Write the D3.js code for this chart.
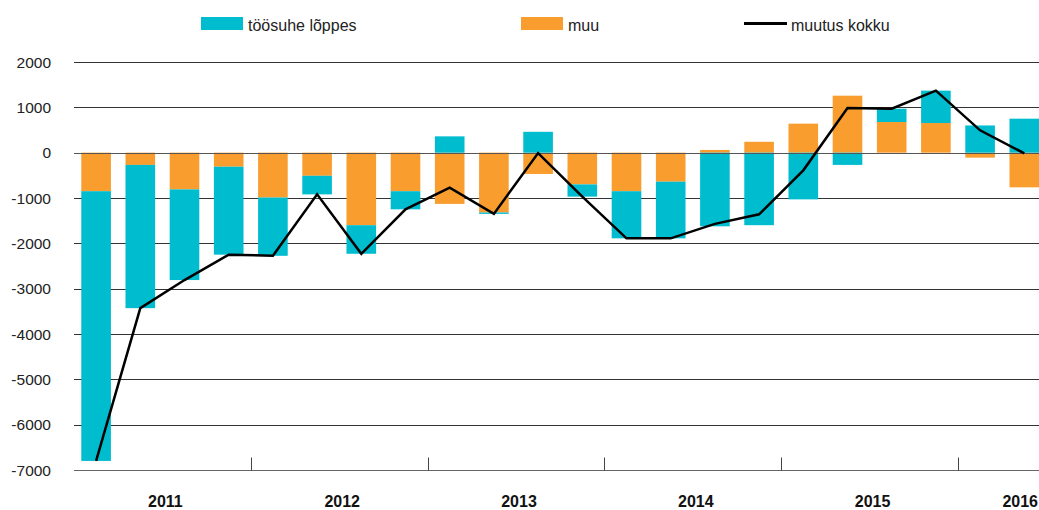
<!DOCTYPE html>
<html>
<head>
<meta charset="utf-8">
<script src="https://cdn.jsdelivr.net/npm/d3@7"></script>
<style>
  body { margin: 0; background: #fff; }
  svg { display: block; font-family: "Liberation Sans", Arial, Helvetica, sans-serif; }
</style>
</head>
<body>
<div id="plot"></div>
<script>

// data

  var quarters = ["2011Q1","2011Q2","2011Q3","2011Q4","2012Q1","2012Q2","2012Q3","2012Q4",
      "2013Q1","2013Q2","2013Q3","2013Q4","2014Q1","2014Q2","2014Q3","2014Q4",
      "2015Q1","2015Q2","2015Q3","2015Q4","2016Q1","2016Q2"];
  var years = ["2011", "2012", "2013", "2014", "2015", "2016"];

  var toosuhe = [-5950, -3160, -2000, -1940, -1285, -410, -630, -400, 360, -30, 460, -270,
      -1040, -1250, -1625, -1600, -1030, -270, 294, 714, 600, 750];
  var muu = [-850, -270, -810, -310, -990, -510, -1600, -850, -1130, -1320, -470, -700,
      -850, -640, 60, 240, 640, 1257, 676, 654, -110, -765];
  var kokku = [-6800, -3430, -2810, -2250, -2275, -920, -2230, -1250, -770, -1350, -10, -970,
      -1890, -1890, -1570, -1360, -390, 985, 970, 1368, 493, -15];

  var yTicks = [2000, 1000, 0, -1000, -2000, -3000, -4000, -5000, -6000, -7000];

  var names = {toosuhe: "töösuhe lõppes", muu: "muu", kokku: "muutus kokku"};
  var colors = {toosuhe: "#00bccf", muu: "#f99d2f"};

// sizes

  var w = 1039;
  var h = 510;
  var left = 74;
  var step = 44.2;

  var rows = quarters.map((q, i) => ({q: q, muu: muu[i], toosuhe: toosuhe[i]}));
  var series = d3.stack()
      .keys(["muu", "toosuhe"])
      .offset(d3.stackOffsetDiverging)(rows);

  var xScale = d3.scaleBand()
      .domain(quarters)
      .range([left, left + step * quarters.length])
      .paddingInner(0.33)
      .paddingOuter(0.165);

  var yScale = d3.scaleLinear()
      .domain([-7000, 2000])
      .range([470, 62]);

  var svg = d3.select("div#plot")
    .append("svg")
      .attr("width", w)
      .attr("height", h);

// gridlines

  svg.append("g")
    .selectAll("line")
      .data(yTicks.filter(d => d != 0 && d != -7000))
    .enter().append("line")
      .attr("x1", left)
      .attr("x2", w)
      .attr("y1", d => Math.round(yScale(d)) + 0.5)
      .attr("y2", d => Math.round(yScale(d)) + 0.5)
      .attr("stroke", "#333")
      .attr("stroke-width", 1);

  svg.append("g")
    .selectAll("text")
      .data(yTicks)
    .enter().append("text")
      .attr("x", 51)
      .attr("y", d => yScale(d))
      .attr("dy", "0.36em")
      .attr("text-anchor", "end")
      .attr("font-size", 15.5)
      .attr("fill", "#222")
      .text(d => d);

// bars

  svg.append("g")
    .selectAll("g")
      .data(series)
    .enter().append("g")
      .attr("fill", d => colors[d.key])
    .selectAll("rect")
      .data(d => d)
    .enter().append("rect")
      .attr("x", d => xScale(d.data.q))
      .attr("y", d => yScale(Math.max(d[0], d[1])))
      .attr("width", xScale.bandwidth())
      .attr("height", d => Math.abs(yScale(d[0]) - yScale(d[1])));

// zero line and bottom axis

  svg.append("line")
      .attr("x1", left).attr("x2", w)
      .attr("y1", Math.round(yScale(0)) + 0.5)
      .attr("y2", Math.round(yScale(0)) + 0.5)
      .attr("stroke", "#555");

  var axisY = Math.round(yScale(-7000)) + 0.5;
  svg.append("line")
      .attr("x1", left).attr("x2", w)
      .attr("y1", axisY).attr("y2", axisY)
      .attr("stroke", "#666");

  svg.append("g")
    .selectAll("line")
      .data(years.slice(1))
    .enter().append("line")
      .attr("x1", (d, i) => Math.round(xScale(quarters[(i + 1) * 4]) - xScale.step() * 0.165) + 0.5)
      .attr("x2", (d, i) => Math.round(xScale(quarters[(i + 1) * 4]) - xScale.step() * 0.165) + 0.5)
      .attr("y1", axisY - 13)
      .attr("y2", axisY)
      .attr("stroke", "#444");

  svg.append("g")
    .selectAll("text")
      .data(years)
    .enter().append("text")
      .attr("x", (d, i) => {
        var qs = quarters.filter(q => q.startsWith(d));
        var c = (xScale(qs[0]) + xScale(qs[qs.length - 1]) + xScale.bandwidth()) / 2 + 3;
        return qs.length < 4 ? w - 1 : c;
      })
      .attr("y", 507)
      .attr("text-anchor", (d, i) => i == years.length - 1 ? "end" : "middle")
      .attr("font-size", 16)
      .attr("font-weight", "bold")
      .attr("fill", "#111")
      .text(d => d);

// total line

  var line = d3.line()
      .x((d, i) => xScale(quarters[i]) + xScale.bandwidth() / 2)
      .y(d => yScale(d));

  svg.append("path")
      .datum(kokku)
      .attr("fill", "none")
      .attr("stroke", "#000")
      .attr("stroke-width", 2.5)
      .attr("stroke-linejoin", "miter")
      .attr("d", line);

// legend

  var legend = svg.append("g");

  legend.append("rect")
      .attr("x", 201).attr("y", 17).attr("width", 42).attr("height", 13)
      .attr("fill", colors.toosuhe);
  legend.append("text")
      .attr("x", 248).attr("y", 30.5)
      .attr("font-size", 16).attr("fill", "#222")
      .text(names.toosuhe);

  legend.append("rect")
      .attr("x", 521).attr("y", 17).attr("width", 42).attr("height", 13)
      .attr("fill", colors.muu);
  legend.append("text")
      .attr("x", 568).attr("y", 30.5)
      .attr("font-size", 16).attr("fill", "#222")
      .text(names.muu);

  legend.append("line")
      .attr("x1", 744).attr("x2", 787).attr("y1", 23.5).attr("y2", 23.5)
      .attr("stroke", "#000").attr("stroke-width", 3);
  legend.append("text")
      .attr("x", 791).attr("y", 30.5)
      .attr("font-size", 16).attr("fill", "#222")
      .text(names.kokku);

</script>
</body>
</html>
